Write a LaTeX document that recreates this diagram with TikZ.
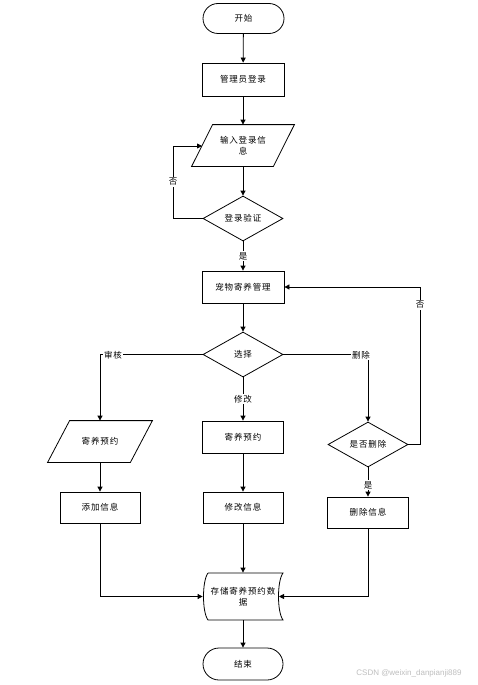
\documentclass[tikz,border=0pt]{standalone}
\usepackage{fontspec}
\newfontfamily\cjk[LetterSpace=10]{Noto Sans CJK SC}
\newfontfamily\wmfont{Liberation Sans}
\usetikzlibrary{arrows.meta,shapes.geometric}
\begin{document}
\begin{tikzpicture}[x=1pt,y=-1pt,
  font=\cjk\fontsize{8.5}{11}\selectfont,
  line width=0.8pt,
  >={Triangle[length=5pt,width=5pt]},
  flow/.style={->},
  box/.style={draw, rectangle, minimum width=81pt, minimum height=32pt, inner sep=0pt},
  term/.style={draw, rectangle, rounded corners=15pt, minimum width=81pt, minimum height=30pt, inner sep=0pt},
  dia/.style={draw, diamond, aspect=1.78, minimum width=80pt, minimum height=45pt, inner sep=0pt},
  ghost/.style={rectangle, inner sep=0pt, align=center},
  lbl/.style={fill=white, inner sep=1pt},
  wm/.style={text=black!25, font=\wmfont\fontsize{8}{9}\selectfont}
]
\useasboundingbox (0,0) rectangle (477,685);
\fill[white] (0,0) rectangle (477,685);

% nodes
\node[term] (start) at (243.5,18.5) {开始};
\node[box, minimum width=82pt, minimum height=33pt] (login) at (243,79.5) {管理员登录};
\node[ghost, minimum width=102pt, minimum height=41pt] (input) at (243,145.5) {输入登录信\\息};
\draw (input.south west) -- ([xshift=21pt]input.north west) -- (input.north east) -- ([xshift=-21pt]input.south east) -- cycle;
\node[dia] (check) at (243,218.5) {登录验证};
\node[box, minimum width=82pt] (manage) at (243,287) {宠物寄养管理};
\node[dia] (choose) at (243,354.5) {选择};
\node[ghost, minimum width=104pt, minimum height=41pt] (ppara) at (100,441.5) {寄养预约};
\draw (ppara.south west) -- ([xshift=22pt]ppara.north west) -- (ppara.north east) -- ([xshift=-22pt]ppara.south east) -- cycle;
\node[box] (mid) at (243,437) {寄养预约};
\node[dia] (rdia) at (368,444.5) {是否删除};
\node[box, minimum width=80pt, minimum height=31pt] (add) at (100,507.5) {添加信息};
\node[box, minimum width=80pt, minimum height=31pt] (modify) at (243,507.5) {修改信息};
\node[box, minimum width=81pt, minimum height=31pt] (delete) at (368,512.5) {删除信息};
\node[ghost, minimum width=80pt, minimum height=47pt] (store) at (243,596.5) {存储寄养预约数\\据};
\draw (208,573) -- (283,573) .. controls (277,581) and (277,612) .. (283,620) -- (208,620) .. controls (202,612) and (202,581) .. (208,573);
\node[term, minimum width=80pt, minimum height=32pt, rounded corners=16pt] (end) at (243,664) {结束};

\coordinate (loopc) at (173,146);
\coordinate (inL) at (202,146);
\coordinate (rbend) at (420,444.5);
\coordinate (storeR) at (279,596.5);

% connectors
\draw[flow] (start) -- (login);
\draw[flow] (login) -- (input);
\draw[flow] (input) -- (check);
\draw[flow] (check) -- (manage);
\node[lbl] (yes1) at (243,256) {是};
\draw[flow] (check.west) -| (loopc) -- (inL);
\node[lbl] (no1) at (173,182) {否};
\draw[flow] (manage) -- (choose);
\draw[flow] (choose.west) -| (ppara.north);
\node[lbl] (audit) at (113,355) {审核};
\draw[flow] (choose.south) -- (mid.north);
\node[lbl] (edit) at (243,399) {修改};
\draw[flow] (choose.east) -| (rdia.north);
\node[lbl] (del) at (361,355) {删除};
\draw[flow] (rdia.east) -- (rbend) |- (manage.east);
\node[lbl] (no2) at (420,305) {否};
\draw[flow] (rdia.south) -- (delete.north);
\node[lbl] (yes2) at (368,485) {是};
\draw[flow] (ppara.south) -- (add.north);
\draw[flow] (mid) -- (modify);
\draw[flow] (add.south) |- (store.west);
\draw[flow] (modify.south) -- (store.north);
\draw[flow] (delete.south) |- (storeR);
\draw[flow] (store.south) -- (end.north);

\node[wm] (mark) at (409,673) {CSDN @weixin\_danpianji889};
\end{tikzpicture}
\end{document}
